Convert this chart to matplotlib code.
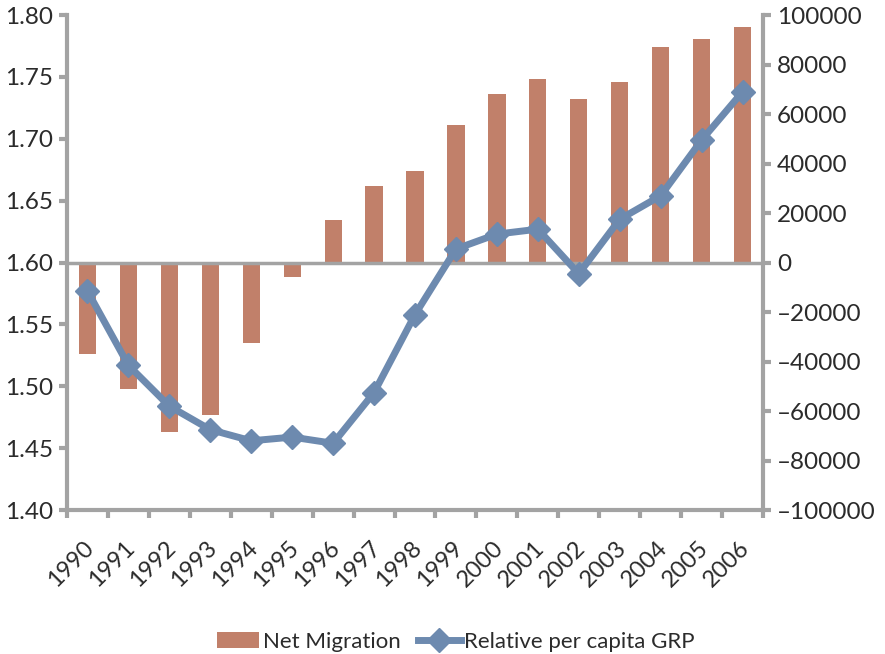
import matplotlib.pyplot as plt
import numpy as np

years = ['1990', '1991', '1992', '1993', '1994', '1995', '1996', '1997', '1998',
         '1999', '2000', '2001', '2002', '2003', '2004', '2005', '2006']
net_migration = [-37000, -51000, -68500, -61500, -32500, -5800, 17000, 31000, 36800,
                 55500, 68300, 74000, 66000, 72800, 86900, 90400, 95000]
rel_grp = [1.577, 1.517, 1.484, 1.465, 1.456, 1.459, 1.454, 1.495, 1.558,
           1.611, 1.623, 1.627, 1.591, 1.635, 1.654, 1.699, 1.738]

bar_col = '#C1806A'
line_col = '#6D8AAF'
axis_col = '#A3A3A3'
text_col = '#2b2b2b'

plt.rcParams['font.family'] = ['Lato', 'DejaVu Sans']
plt.rcParams['font.size'] = 14

fig = plt.figure(figsize=(8.85, 6.54), dpi=100)
ax = fig.add_axes([0.0757, 0.220, 0.7865, 0.757])
ax2 = ax.twinx()

x = np.arange(len(years))

ax2.bar(x, net_migration, width=0.42, color=bar_col, label='Net Migration', zorder=2)
ax2.axhline(0, color=axis_col, lw=2.5, zorder=3)
ax2.set_ylim(-100000, 100000)
ax2.set_yticks(np.arange(-100000, 100001, 20000))
ax2.set_yticklabels([str(v).replace('-', '\u2013') for v in range(-100000, 100001, 20000)])

ax.plot(x, rel_grp, color=line_col, lw=5, marker='D', ms=12, label='Relative per capita GRP',
        zorder=4)
ax.set_ylim(1.40, 1.80)
ax.set_yticks(np.arange(1.40, 1.801, 0.05))
ax.set_yticklabels(['%.2f' % v for v in np.arange(1.40, 1.801, 0.05)])
ax.set_xlim(-0.5, len(years) - 0.5)

ax.set_zorder(ax2.get_zorder() + 1)
ax.patch.set_visible(False)

# category ticks between years, labels at centres
ax.set_xticks(np.arange(-0.5, len(years), 1.0))
ax.set_xticklabels([])
ax.set_xticks(x + 0.08, minor=True)
ax.set_xticklabels(years, minor=True, rotation=45, ha='right', va='center',
                   rotation_mode='anchor', color=text_col, fontsize=17)
ax.tick_params(axis='x', which='minor', length=0, pad=25)
ax.tick_params(axis='x', which='major', length=6, width=3, color=axis_col)

for a in (ax, ax2):
    for s in a.spines.values():
        s.set_visible(False)
ax.spines['left'].set_visible(True)
ax.spines['left'].set_color(axis_col)
ax.spines['left'].set_linewidth(3)
ax.spines['bottom'].set_visible(True)
ax.spines['bottom'].set_color(axis_col)
ax.spines['bottom'].set_linewidth(3)
ax2.spines['right'].set_visible(True)
ax2.spines['right'].set_color(axis_col)
ax2.spines['right'].set_linewidth(3)

ax.tick_params(axis='y', length=6, width=3, color=axis_col, labelcolor=text_col,
               labelsize=17.5, pad=4)
ax2.tick_params(axis='y', length=6, width=3, color=axis_col, labelcolor=text_col,
                labelsize=17.5, pad=4)

h1, l1 = ax2.get_legend_handles_labels()
h2, l2 = ax.get_legend_handles_labels()
fig.legend(h1 + h2, l1 + l2, loc='lower center', bbox_to_anchor=(0.515, -0.027), ncol=2,
           frameon=False, fontsize=16, handlelength=1.9, columnspacing=0.8,
           handletextpad=0.15, labelcolor=text_col)

fig.savefig('out.png', dpi=100)
